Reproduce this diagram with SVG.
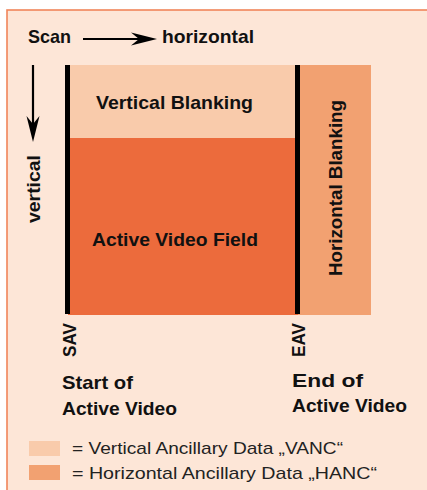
<svg xmlns="http://www.w3.org/2000/svg" width="427" height="490" viewBox="0 0 427 490">
<style>
.b{font-family:"Liberation Sans",Arial,sans-serif;font-weight:bold;font-size:19px;fill:#111}
.r{font-family:"Liberation Sans",Arial,sans-serif;font-size:17px;fill:#222}
.blk{stroke:#000;stroke-width:5}
</style>
<rect x="0" y="0" width="427" height="490" fill="#fff"/>
<rect x="7" y="10" width="430" height="490" fill="#fde6d7" stroke="#f0855a" stroke-width="1.6"/>
<g id="scan">
<text class="b" x="28" y="43" textLength="43" lengthAdjust="spacingAndGlyphs">Scan</text>
<text class="b" x="162" y="43" textLength="92" lengthAdjust="spacingAndGlyphs">horizontal</text>
<text class="b" transform="translate(39.5,223) rotate(-90)" textLength="68" lengthAdjust="spacingAndGlyphs">vertical</text>
</g>
<g id="connectors">
<line x1="83" y1="39" x2="140" y2="39" stroke="#000" stroke-width="2.2"/>
<path d="M157,39 L131,32.5 L139,39 L131,45.5 Z" fill="#000"/>
<line x1="33" y1="65" x2="33" y2="125" stroke="#000" stroke-width="2.2"/>
<path d="M33,142 L26.5,116 L33,124 L39.5,116 Z" fill="#000"/>
</g>
<g id="vanc">
<rect x="68" y="65" width="230" height="73" fill="#f9cbab"/>
<text class="b" x="96" y="109" textLength="157" lengthAdjust="spacingAndGlyphs">Vertical Blanking</text>
</g>
<g id="active">
<rect x="68" y="138" width="230" height="177" fill="#ec6b3c"/>
<text class="b" x="92" y="246" textLength="166" lengthAdjust="spacingAndGlyphs">Active Video Field</text>
</g>
<g id="hanc">
<rect x="298" y="65" width="73" height="250" fill="#f2a171"/>
<text class="b" transform="translate(342,276) rotate(-90)" textLength="176" lengthAdjust="spacingAndGlyphs">Horizontal Blanking</text>
</g>
<g id="sav">
<line class="blk" x1="67.5" y1="65" x2="67.5" y2="314"/>
<text class="b" transform="translate(76,357) rotate(-90)" textLength="34" lengthAdjust="spacingAndGlyphs">SAV</text>
<text class="b" x="62" y="389" textLength="71" lengthAdjust="spacingAndGlyphs">Start of</text>
<text class="b" x="62" y="415" textLength="115" lengthAdjust="spacingAndGlyphs">Active Video</text>
</g>
<g id="eav">
<line class="blk" x1="297.5" y1="65" x2="297.5" y2="314"/>
<text class="b" transform="translate(305,357) rotate(-90)" textLength="34" lengthAdjust="spacingAndGlyphs">EAV</text>
<text class="b" x="292" y="387" textLength="71" lengthAdjust="spacingAndGlyphs">End of</text>
<text class="b" x="292" y="412" textLength="115" lengthAdjust="spacingAndGlyphs">Active Video</text>
</g>
<g id="legend">
<rect x="29" y="441" width="31" height="15" fill="#f9cbab"/>
<text class="r" x="72" y="454" textLength="271" lengthAdjust="spacingAndGlyphs">= Vertical Ancillary Data „VANC“</text>
<rect x="29" y="465" width="31" height="15" fill="#f2a171"/>
<text class="r" x="72" y="479" textLength="305" lengthAdjust="spacingAndGlyphs">= Horizontal Ancillary Data „HANC“</text>
</g>
</svg>
